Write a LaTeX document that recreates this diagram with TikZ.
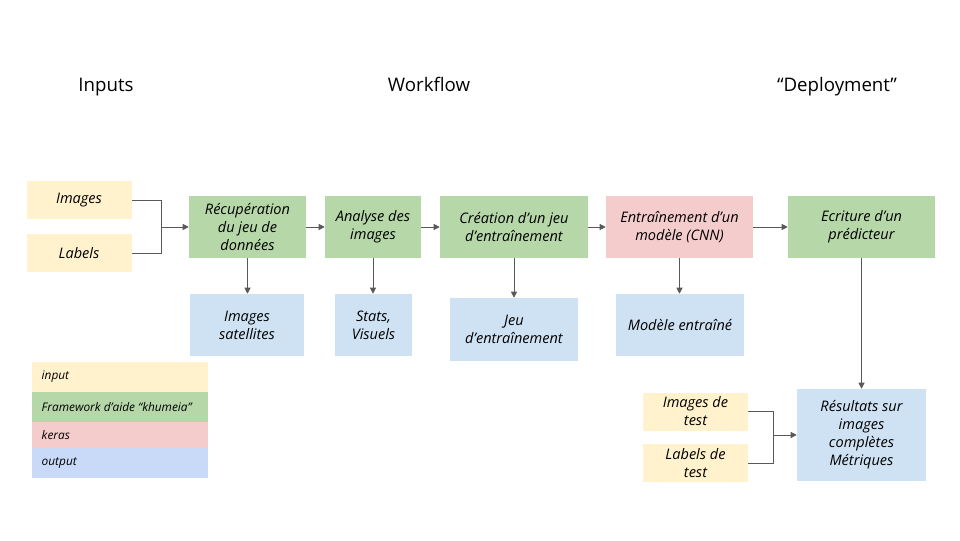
\documentclass[tikz,border=0pt]{standalone}
\usepackage{fontspec}
\setmainfont{Open Sans}
\usepackage{xcolor}
\usetikzlibrary{arrows.meta,positioning}

\definecolor{inyellow}{HTML}{FFF2CC}
\definecolor{khgreen}{HTML}{B6D7A8}
\definecolor{kerasred}{HTML}{F4CCCC}
\definecolor{outblue}{HTML}{CFE2F3}
\definecolor{legblue}{HTML}{C9DAF8}
\definecolor{linegray}{HTML}{595959}

\begin{document}
\begin{tikzpicture}[
      x=0.75pt, y=-0.75pt,
      font=\fontsize{10.9}{13.5}\selectfont\itshape,
      box/.style={minimum width=#1*0.75pt, align=center, inner sep=0pt},
      inbox/.style={box=105, minimum height=38*0.75pt, fill=inyellow},
      kbox/.style={box=#1, minimum height=62*0.75pt, fill=khgreen},
      obox/.style={box=#1, minimum height=62*0.75pt, fill=outblue},
      leg/.style={minimum width=176*0.75pt, minimum height=#1*0.75pt, inner sep=0pt},
      legtxt/.style={anchor=west, font=\fontsize{8.9}{10}\selectfont\itshape},
      title/.style={anchor=base, font=\fontsize{14}{17}\selectfont},
      arr/.style={-{Triangle[length=4.5pt, width=4.5pt]}, line width=0.75pt, draw=linegray},
      lin/.style={line width=0.75pt, draw=linegray}
    ]
    \useasboundingbox (0,0) rectangle (960,540);

    % Titles
    \node[title] (tin)  at (106,91.5) {Inputs};
    \node[title] (twf)  at (429,91.5) {Workflow};
    \node[title] (tdep) at (837,91.5) {“Deployment”};

    % Inputs
    \node[inbox] (img) at (79,200)   {Images};
    \node[inbox] (lab) at (79,253)   {Labels};
    \coordinate (jin) at (161,227);

    % Workflow
    \node[kbox=117] (recup) at (247.5,227) {Récupération\\du jeu de\\données};
    \node[kbox=96]  (anal)  at (373,227)   {Analyse des\\images};
    \node[kbox=148] (creat) at (514,227)   {Création d’un jeu\\d’entraînement};
    \node[kbox=147, fill=kerasred] (train) at (679.5,227) {Entraînement d’un\\modèle (CNN)};
    \node[kbox=147] (ecr)   at (861.5,227) {Ecriture d’un\\prédicteur};

    \node[obox=114] (sat)   at (247,325)   {Images\\satellites};
    \node[obox=77]  (stats) at (373.5,325) {Stats,\\Visuels};
    \node[obox=128, minimum height=63*0.75pt] (jeu) at (514,329.5) {Jeu\\d’entraînement};
    \node[obox=128] (model) at (680,325)   {Modèle entraîné};

    % Deployment
    \node[inbox] (imtest)  at (695.5,411.5) {Images de\\test};
    \node[inbox] (labtest) at (695.5,463)   {Labels de\\test};
    \node[obox=129, minimum height=92*0.75pt] (res) at (861.5,435) {Résultats sur\\images\\complètes\\Métriques};
    \coordinate (jout) at (773,435);

    \draw[lin] (img) -| (jin);
    \draw[lin] (lab) -| (jin);
    \draw[arr] (jin)   -- (recup);
    \draw[arr] (recup) -- (anal);
    \draw[arr] (anal)  -- (creat);
    \draw[arr] (creat) -- (train);
    \draw[arr] (train) -- (ecr);

    \draw[arr] (recup) -- (recup |- sat.north);
    \draw[arr] (anal)  -- (anal |- stats.north);
    \draw[arr] (creat) -- (creat |- jeu.north);
    \draw[arr] (train) -- (train |- model.north);
    \draw[arr] (ecr)   -- (ecr |- res.north);

    \draw[lin] (imtest)  -| (jout);
    \draw[lin] (labtest) -| (jout);
    \draw[arr] (jout) -- (res);

    % Legend
    \node[leg=30, fill=inyellow] (lin1) at (120,377) {};
    \node[leg=30, fill=khgreen]  (lin2) at (120,407) {};
    \node[leg=26, fill=kerasred] (lin3) at (120,435) {};
    \node[leg=30, fill=legblue]  (lin4) at (120,463) {};
    \node[legtxt] (ltx1) at (37,377) {input};
    \node[legtxt] (ltx2) at (37,407) {Framework d’aide “khumeia”};
    \node[legtxt] (ltx3) at (37,435) {keras};
    \node[legtxt] (ltx4) at (37,463) {output};
  \end{tikzpicture}
\end{document}
